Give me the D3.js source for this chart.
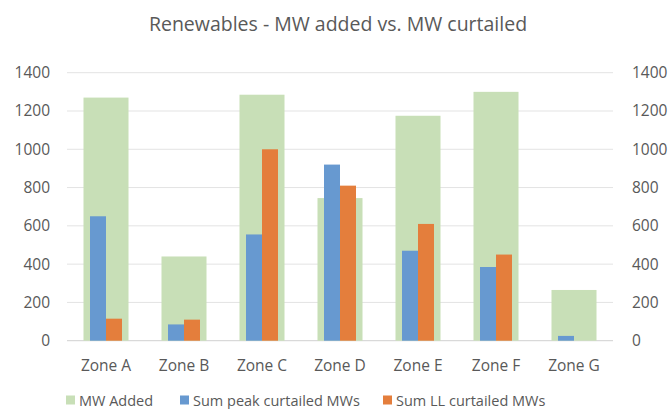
<!DOCTYPE html>
<html>
<head>
<meta charset="utf-8">
<script src="https://cdn.jsdelivr.net/npm/d3@7"></script>
<style>
  html, body { margin: 0; padding: 0; background: #fff; }
  svg { display: block; font-family: "Open Sans", sans-serif; }
</style>
</head>
<body>
<svg id="chart" width="670" height="409"></svg>
<script>
// Zones and the three series
const zones = ["Zone A", "Zone B", "Zone C", "Zone D", "Zone E", "Zone F", "Zone G"];
const mwAdded = [1270, 440, 1285, 745, 1175, 1300, 265];
const peakCurtailed = [650, 85, 555, 920, 470, 385, 25];
const llCurtailed = [115, 110, 1000, 810, 610, 450, 0];
const yTicks = [0, 200, 400, 600, 800, 1000, 1200, 1400];
const seriesNames = ["MW Added", "Sum peak curtailed MWs", "Sum LL curtailed MWs"];
const seriesColors = ["#c8dfb7", "#6799d0", "#e47e3c"];

const svg = d3.select("#chart");
const plot = { left: 67, right: 613, top: 72.7, bottom: 340.7 };
const textColor = "#595959";

const x = d3.scaleBand()
  .domain(zones)
  .range([plot.left, plot.right])
  .paddingInner(0.423)
  .paddingOuter(0.2115);

const y = d3.scaleLinear()
  .domain([0, 1400])
  .range([plot.bottom, plot.top]);

// Title
svg.append("text")
  .attr("x", 338)
  .attr("y", 23)
  .attr("text-anchor", "middle")
  .attr("dominant-baseline", "central")
  .attr("fill", textColor)
  .style("font-size", "19.5px")
  .text("Renewables - MW added vs. MW curtailed");

// Gridlines
svg.append("g")
  .selectAll("line")
  .data(yTicks)
  .join("line")
  .attr("x1", plot.left)
  .attr("x2", plot.right)
  .attr("y1", d => y(d))
  .attr("y2", d => y(d))
  .attr("stroke", d => d === 0 ? "#d0d0d0" : "#e3e3e3")
  .attr("stroke-width", 1);

// Left and right value axes
const fmt = d3.format("d");
const leftAxis = svg.append("g")
  .attr("transform", `translate(${plot.left},0)`)
  .call(d3.axisLeft(y).tickValues(yTicks).tickFormat(fmt).tickSize(0).tickPadding(17));
const rightAxis = svg.append("g")
  .attr("transform", `translate(${plot.right},0)`)
  .call(d3.axisRight(y).tickValues(yTicks).tickFormat(fmt).tickSize(0).tickPadding(19));
[leftAxis, rightAxis].forEach(ax => {
  ax.select(".domain").remove();
  ax.selectAll("text")
    .attr("fill", textColor)
    .style("font-size", "15.5px")
    .style("font-family", "'Open Sans', sans-serif");
});

// Wide background bars: MW added
svg.append("g")
  .selectAll("rect")
  .data(zones)
  .join("rect")
  .attr("x", d => x(d))
  .attr("width", x.bandwidth())
  .attr("y", (d, i) => y(mwAdded[i]))
  .attr("height", (d, i) => y(0) - y(mwAdded[i]))
  .attr("fill", seriesColors[0]);

// Narrow paired bars: curtailed MWs
const pairWidth = 32;
const x1 = d3.scaleBand()
  .domain(["peak", "ll"])
  .range([0, pairWidth]);
const pairs = zones.map((z, i) => ({ zone: z, values: [
  { key: "peak", v: peakCurtailed[i], c: seriesColors[1] },
  { key: "ll", v: llCurtailed[i], c: seriesColors[2] }
]}));
svg.append("g")
  .selectAll("g")
  .data(pairs)
  .join("g")
  .attr("transform", d => `translate(${x(d.zone) + x.bandwidth() / 2 - pairWidth / 2},0)`)
  .selectAll("rect")
  .data(d => d.values)
  .join("rect")
  .attr("x", d => x1(d.key))
  .attr("width", x1.bandwidth())
  .attr("y", d => y(d.v))
  .attr("height", d => y(0) - y(d.v))
  .attr("fill", d => d.c);

// Category axis
const bottomAxis = svg.append("g")
  .attr("transform", `translate(0,${plot.bottom})`)
  .call(d3.axisBottom(x).tickSize(0).tickPadding(19));
bottomAxis.select(".domain").remove();
bottomAxis.selectAll("text")
  .attr("fill", textColor)
  .style("font-size", "15.5px")
  .style("font-family", "'Open Sans', sans-serif");

// Legend
const legendX = [66, 180, 383];
const legend = svg.append("g")
  .selectAll("g")
  .data(seriesNames)
  .join("g")
  .attr("transform", (d, i) => `translate(${legendX[i]},400)`);
legend.append("rect")
  .attr("x", 0)
  .attr("y", -4.5)
  .attr("width", 9)
  .attr("height", 9)
  .attr("fill", (d, i) => seriesColors[i]);
legend.append("text")
  .attr("x", 13)
  .attr("y", 0)
  .attr("dominant-baseline", "central")
  .attr("fill", textColor)
  .style("font-size", "14.5px")
  .text(d => d);
</script>
</body>
</html>
